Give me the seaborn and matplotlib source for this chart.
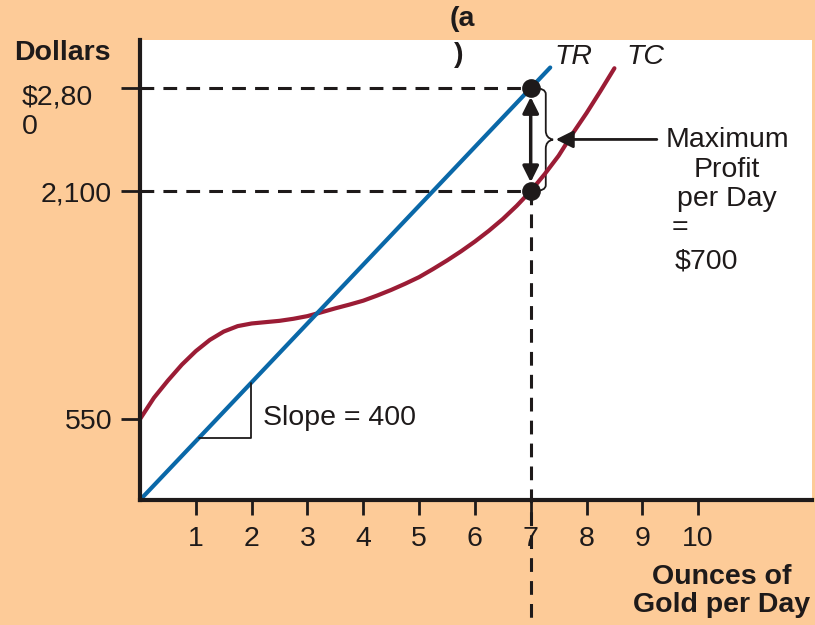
import numpy as np
import pandas as pd
import matplotlib
matplotlib.use("Agg")
import matplotlib.pyplot as plt
import matplotlib.transforms as mtransforms
from matplotlib.path import Path
from matplotlib.patches import PathPatch
import seaborn as sns

# data
ounces_ticks = [1, 2, 3, 4, 5, 6, 7, 8, 9, 10]
dollar_ticks = [550, 2100, 2800]
dollar_labels = ["550", "2,100", "$2,80\n0"]

tr_x = [0, 7.35]
tr_y = [0, 2940]

tc_x = [0, 0.25, 0.5, 0.75, 1.0, 1.25, 1.5, 1.75, 2.0, 2.25, 2.5, 2.75,
        3.0, 3.25, 3.5, 3.75, 4.0, 4.25, 4.5, 4.75, 5.0, 5.25, 5.5, 5.75,
        6.0, 6.25, 6.5, 6.75, 7.0, 7.25, 7.5, 7.75, 8.0, 8.25, 8.5]
tc_y = [550, 695, 812, 920, 1012, 1088, 1145, 1182, 1200, 1209, 1218, 1232,
        1250, 1276, 1303, 1328, 1355, 1390, 1428, 1470, 1515, 1570, 1628, 1690,
        1757, 1830, 1910, 2000, 2100, 2215, 2340, 2490, 2630, 2780, 2935]

q_star = 7
tr_star = 2800
tc_star = 2100

PEACH = "#FDCB98"
BLUE = "#0A68A8"
RED = "#9B1C35"
INK = "#1E1A1A"

sns.set_style("white")
plt.rcParams["font.family"] = ["Liberation Sans", "DejaVu Sans"]

fig = plt.figure(figsize=(8.15, 6.25), dpi=100, facecolor=PEACH)
ax = fig.add_axes([140 / 815, 1 - 500 / 625, 672 / 815, 460 / 625])
ax.set_facecolor("white")
ax.set_xlim(0, 12.04)
ax.set_ylim(0, 3127)

tr_df = pd.DataFrame({"q": tr_x, "v": tr_y})
tc_df = pd.DataFrame({"q": tc_x, "v": tc_y})
sns.lineplot(data=tc_df, x="q", y="v", ax=ax, color=RED, lw=3, sort=False)
sns.lineplot(data=tr_df, x="q", y="v", ax=ax, color=BLUE, lw=3, sort=False)

# dashed guides
ax.plot([0, q_star], [tr_star, tr_star], color=INK, lw=2.2, dashes=(4.5, 3))
ax.plot([0, q_star], [tc_star, tc_star], color=INK, lw=2.2, dashes=(4.5, 3))
ax.plot([q_star, q_star], [tc_star, -850], color=INK, lw=2.2, dashes=(4.5, 3),
        clip_on=False)

# profit arrow between the two points
ax.annotate("", xy=(q_star, tr_star - 60), xytext=(q_star, tc_star + 60),
            arrowprops=dict(arrowstyle="<|-|>", color=INK, lw=2.5,
                            mutation_scale=24, shrinkA=0, shrinkB=0))

pts = pd.DataFrame({"q": [q_star, q_star], "v": [tr_star, tc_star]})
sns.scatterplot(data=pts, x="q", y="v", ax=ax, color=INK, s=155,
                edgecolor=INK, zorder=5)

# brace
bx1, btip = 7.27, 7.4
ymid = (tr_star + tc_star) / 2
verts = [(q_star + 0.05, tr_star), (bx1, tr_star), (bx1, tr_star - 40),
         (bx1, ymid + 60), (bx1, ymid + 10), (btip, ymid),
         (bx1, ymid - 10), (bx1, ymid - 60),
         (bx1, tc_star + 40), (bx1, tc_star), (q_star + 0.05, tc_star)]
codes = [Path.MOVETO, Path.CURVE3, Path.CURVE3, Path.LINETO, Path.CURVE3,
         Path.CURVE3, Path.CURVE3, Path.CURVE3, Path.LINETO, Path.CURVE3,
         Path.CURVE3]
ax.add_patch(PathPatch(Path(verts, codes), fill=False, color=INK, lw=1.3))

ax.annotate("", xy=(btip + 0.05, 2451), xytext=(9.26, 2451),
            arrowprops=dict(arrowstyle="-|>", color=INK, lw=2,
                            mutation_scale=26, shrinkA=0, shrinkB=0))

fs = 20.5
ax.text(10.52, 2444, "Maximum", fontsize=fs, ha="center", va="center", color=INK)
ax.text(10.52, 2240, "Profit", fontsize=fs, ha="center", va="center", color=INK)
ax.text(10.52, 2043, "per Day", fontsize=fs, ha="center", va="center", color=INK)
ax.text(9.68, 1852, "=", fontsize=fs, ha="center", va="center", color=INK)
ax.text(10.14, 1621, "$700", fontsize=fs, ha="center", va="center", color=INK)

# slope triangle
ax.plot([1.05, 1.99, 1.99], [420, 420, 796], color=INK, lw=1.3)
ax.text(2.2, 555, "Slope = 400", fontsize=fs, ha="left", va="center", color=INK)

ax.text(7.76, 3010, "TR", fontsize=fs, style="italic", ha="center",
        va="center", color=INK)
ax.text(9.05, 3010, "TC", fontsize=fs, style="italic", ha="center",
        va="center", color=INK)

# axes styling
sns.despine(ax=ax, top=True, right=True)
for side in ["left", "bottom"]:
    ax.spines[side].set_linewidth(3)
    ax.spines[side].set_color(INK)

ax.set_xticks(ounces_ticks)
ax.set_xticklabels([str(t) for t in ounces_ticks], fontsize=fs, color=INK)
ax.set_yticks(dollar_ticks)
ax.set_yticklabels(dollar_labels, fontsize=fs, color=INK)
ax.tick_params(axis="x", direction="out", length=11, width=2, pad=8,
               colors=INK, bottom=True)
ax.tick_params(axis="y", direction="out", length=14, width=2, pad=6,
               colors=INK, left=True)
lab = ax.get_yticklabels()[2]
lab.set_multialignment("left")
lab.set_transform(lab.get_transform() +
                  mtransforms.ScaledTranslation(-0.19, -0.19, fig.dpi_scale_trans))
ax.set_xlabel("")
ax.set_ylabel("")

fig.text(62 / 815, 1 - 53 / 625, "Dollars", fontsize=fs, fontweight="bold",
         ha="center", va="center", color=INK)
fig.text(722 / 815, 1 - 591 / 625, "Ounces of\nGold per Day", fontsize=fs,
         fontweight="bold", ha="center", va="center", color=INK,
         linespacing=1.05)
fig.text(462 / 815, 1 - 19 / 625, "(a", fontsize=fs, fontweight="bold",
         ha="center", va="center", color=INK)
fig.text(459 / 815, 1 - 55 / 625, ")", fontsize=fs, fontweight="bold",
         ha="center", va="center", color=INK)

fig.savefig("out.png", dpi=100, facecolor=PEACH)
